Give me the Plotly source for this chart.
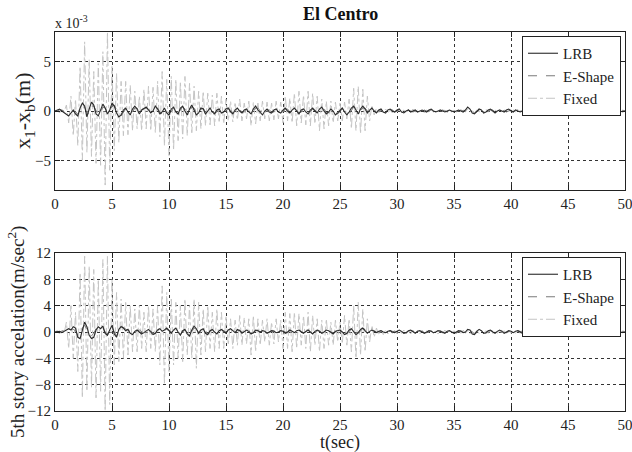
import plotly.graph_objects as go

# ---------------- data (sampled every DT seconds, 0..50 s) ----------------
DT = 0.2
N_SAMPLES = 251
t = [round(i * DT, 1) for i in range(N_SAMPLES)]

# Top: relative displacement x1-xb (units of 1e-3 m)
fixed_disp = [
    0.0,0.1,-0.2,0.2,-0.1, 0.6,-1.2,1.5,-2.5,1.2, -3.5,4.5,-5.0,7.0,-4.2, 5.2,-4.6,4.0,-5.3,4.8, -5.5,6.0,-7.5,8.0,-6.0,
    4.5,-4.0,3.8,-3.2,3.0, -2.5,3.0,-2.4,2.6,-2.0, 2.0,-1.8,1.5,-2.0,2.2, -1.8,2.5,-2.0,2.4,-2.2, 3.0,-2.6,4.0,-3.5,3.2,
    -4.5,3.5,-4.0,3.2,-3.0, 3.0,-2.8,3.5,-2.5,2.8, -2.2,2.5,-2.0,2.0,-1.8, 2.0,-1.5,1.8,-1.4,1.6, -1.5,1.8,-1.2,1.5,-1.3,
    1.2,-1.0,1.0,-1.1,0.9, -0.9,1.2,-1.0,0.8,-0.8, 1.0,-1.5,0.9,-1.3,0.8, -1.0,1.0,-0.8,0.9,-1.0, 0.8,-0.9,1.0,-0.8,0.9,
    -1.2,1.5,-1.0,1.3,-1.2, 1.8,-1.5,2.0,-1.2,1.6, -1.4,2.0,-1.5,1.8,-1.3, 1.5,-2.0,1.2,-1.8,1.0, -1.5,1.0,-1.2,0.9,-1.0,
    0.8,-1.0,0.9,-0.8,1.2, -1.8,2.3,-2.0,2.5,-2.3, 2.2,-2.0,1.5,-1.0,0.6, -0.4,0.3,-0.3,0.2,-0.2, 0.2,-0.2,0.1,-0.2,0.1,
    -0.1,0.2,-0.1,0.1,-0.2, 0.1,-0.1,0.2,-0.1,0.1, -0.1,0.1,-0.2,0.1,-0.1, 0.1,-0.1,0.1,-0.1,0.2, -0.1,0.1,-0.1,0.1,-0.1,
    0.1,-0.2,0.1,-0.1,0.1, -0.1,0.2,-0.1,0.1,-0.2, 0.1,-0.1,0.1,-0.1,0.2, -0.1,0.1,-0.1,0.1,-0.1, 0.2,-0.1,0.1,-0.1,0.1,
    -0.1,0.1,-0.1,0.2,-0.1, 0.1,-0.1,0.1,-0.2,0.1, -0.1,0.1,-0.1,0.1,-0.1, 0.2,-0.1,0.1,-0.1,0.1, -0.1,0.1,-0.2,0.1,-0.1,
    0.1,-0.1,0.1,-0.1,0.2, -0.1,0.1,-0.1,0.1,-0.1, 0.1,-0.2,0.1,-0.1,0.1, -0.1,0.1,-0.1,0.2,-0.1, 0.1,-0.1,0.1,-0.1,0.1,
    0.0,
]
lrb_disp = [
    0.0,0.1,0.2,0.0,-0.2, -0.3,-0.5,-0.2,0.1,-0.3, -0.5,0.3,0.8,0.5,-0.6, 0.2,0.9,0.6,-0.3,-0.5, 0.2,0.7,0.3,-0.3,0.1,
    0.8,0.5,-0.2,-0.6,-0.4, 0.1,0.3,-0.1,-0.4,0.2, 0.5,0.2,-0.3,0.1,0.3, 0.4,0.1,-0.2,0.0,0.5, 0.2,-0.3,-0.1,0.3,-0.2,
    -0.4,0.2,0.4,-0.1,-0.3, 0.3,0.5,0.0,-0.4,0.2, 0.6,0.1,-0.4,-0.2,0.3, 0.2,-0.3,0.0,0.3,-0.1, -0.3,0.1,0.2,-0.2,-0.1,
    0.2,0.3,-0.1,-0.3,0.1, 0.3,0.0,-0.2,0.1,0.2, -0.1,-0.3,0.2,0.5,0.1, -0.2,-0.4,0.0,0.2,-0.1, -0.2,0.1,0.2,-0.1,-0.2,
    0.1,0.3,0.0,-0.2,0.1, 0.3,0.0,-0.3,0.1,0.2, -0.1,-0.3,0.1,0.3,0.0, -0.2,0.2,0.4,0.0,-0.3, -0.1,0.2,0.0,-0.4,-0.2,
    0.1,0.3,-0.1,-0.4,-0.1, 0.3,0.5,0.1,-0.3,0.2, 0.5,0.2,-0.2,0.1,0.3, 0.0,-0.2,0.1,0.2,-0.1, -0.2,0.1,0.2,0.0,-0.1,
    0.1,0.2,-0.1,-0.2,0.0, 0.1,-0.1,0.0,0.1,-0.1, 0.0,0.1,0.0,-0.1,0.1, 0.2,0.0,-0.1,0.0,0.1, 0.0,-0.1,0.0,0.1,0.0,
    -0.1,0.0,0.1,0.0,-0.1, 0.1,0.4,0.2,-0.2,-0.3, 0.0,0.2,0.1,-0.2,-0.1, 0.1,0.2,0.0,-0.2,0.0, 0.1,0.0,-0.1,0.1,0.2,
    0.0,-0.1,0.1,0.0,-0.1, 0.0,0.1,0.0,-0.1,0.0, 0.1,0.0,-0.1,0.0,0.1, 0.2,0.0,-0.1,0.0,0.1, 0.0,-0.1,0.0,0.1,0.0,
    0.2,0.1,-0.1,0.0,0.1, 0.0,-0.1,0.1,0.2,0.0, -0.1,0.0,0.1,0.0,-0.1, 0.0,0.1,0.2,0.0,-0.1, 0.0,0.1,0.0,-0.1,0.0,
    0.0,
]
eshape_disp = [
    0.0,0.0,0.1,0.1,0.0, -0.2,-0.3,-0.2,0.0,-0.1, -0.3,-0.1,0.4,0.4,-0.2, -0.3,0.5,0.5,0.0,-0.4, -0.2,0.4,0.3,-0.2,-0.1,
    0.5,0.6,0.1,-0.4,-0.5, -0.1,0.2,0.1,-0.3,-0.1, 0.3,0.3,-0.1,-0.2,0.2, 0.3,0.2,-0.1,-0.2,0.3, 0.3,-0.1,-0.3,0.1,0.1,
    -0.2,-0.1,0.3,0.1,-0.2, 0.1,0.4,0.2,-0.2,-0.1, 0.4,0.3,-0.2,-0.3,0.1, 0.3,-0.1,-0.2,0.2,0.1, -0.2,-0.1,0.2,0.0,-0.2,
    0.0,0.2,0.1,-0.2,-0.1, 0.2,0.1,-0.1,-0.1,0.1, 0.0,-0.2,-0.1,0.3,0.3, 0.0,-0.3,-0.2,0.1,0.1, -0.1,-0.1,0.1,0.1,-0.1,
    -0.1,0.2,0.2,-0.1,-0.1, 0.2,0.1,-0.2,-0.1,0.1, 0.1,-0.2,-0.1,0.2,0.1, -0.1,0.0,0.3,0.2,-0.2, -0.2,0.1,0.1,-0.2,-0.3,
    -0.1,0.2,0.1,-0.2,-0.3, 0.1,0.4,0.3,-0.1,0.0, 0.3,0.3,0.0,-0.1,0.2, 0.1,-0.1,0.0,0.1,0.0, -0.1,0.0,0.1,0.1,-0.1,
    0.0,0.1,0.0,-0.1,-0.1, 0.1,0.0,-0.1,0.0,0.0, -0.1,0.0,0.1,0.0,0.0, 0.1,0.1,-0.1,-0.1,0.0, 0.1,0.0,-0.1,0.0,0.1,
    0.0,-0.1,0.0,0.1,0.0, 0.0,0.2,0.2,0.0,-0.2, -0.1,0.1,0.2,0.0,-0.2, 0.0,0.1,0.1,-0.1,-0.1, 0.0,0.1,0.0,-0.1,0.0,
    0.1,0.0,0.0,0.1,0.0, -0.1,0.0,0.1,0.0,-0.1, 0.0,0.1,0.0,-0.1,0.0, 0.1,0.1,0.0,-0.1,0.0, 0.1,0.0,-0.1,0.0,0.1,
    0.1,0.1,0.0,-0.1,0.0, 0.1,0.0,0.0,0.1,0.1, 0.0,-0.1,0.0,0.1,0.0, -0.1,0.0,0.1,0.1,0.0, -0.1,0.0,0.1,0.0,-0.1,
    0.0,
]

# Bottom: 5th story acceleration (m/sec^2)
fixed_acc = [
    0.0,0.2,-0.3,0.3,-0.2, 1.5,-2.5,4.0,-4.0,3.0, -6.0,9.0,-10.0,11.5,-9.0, 10.0,-8.5,9.5,-10.0,8.0, -9.0,11.0,-12.0,11.5,-11.0,
    8.0,-5.0,6.0,-4.5,5.0, -4.0,4.5,-3.5,4.0,-3.0, 3.5,-3.0,4.0,-2.5,3.0, -3.0,4.0,-2.5,3.5,-3.0, 4.0,-5.0,7.0,-8.0,6.0,
    -6.0,5.0,-5.0,4.5,-4.0, 4.0,-4.5,5.0,-3.5,4.0, -4.0,5.0,-5.5,4.5,-3.5, 3.5,-3.0,4.0,-2.5,3.0, -3.0,3.5,-2.5,3.0,-2.5,
    2.5,-2.0,2.0,-2.5,1.8, -2.0,2.5,-2.0,2.2,-1.8, 2.0,-3.5,2.5,-3.0,2.0, -2.0,1.8,-1.5,2.0,-2.0, 1.5,-1.8,2.0,-1.5,1.8,
    -2.5,3.0,-2.5,2.8,-3.0, 3.0,-2.5,2.8,-2.0,2.5, -2.5,3.0,-3.0,2.5,-2.0, 2.0,-3.0,1.8,-2.5,2.0, -2.0,1.5,-2.0,1.8,-1.5,
    1.5,-1.8,2.5,-2.0,2.0, -3.0,4.0,-4.0,4.5,-3.5, 3.5,-3.0,2.0,-1.5,1.0, -0.8,0.6,-0.5,0.4,-0.4, 0.3,-0.3,0.3,-0.2,0.3,
    -0.3,0.3,-0.2,0.3,-0.3, 0.2,-0.3,0.3,-0.2,0.2, -0.3,0.3,-0.2,0.2,-0.2, 0.3,-0.2,0.2,-0.3,0.2, -0.2,0.3,-0.2,0.2,-0.2,
    0.2,-0.3,0.2,-0.2,0.3, -0.2,0.2,-0.3,0.2,-0.2, 0.2,-0.2,0.3,-0.2,0.2, -0.2,0.2,-0.2,0.3,-0.2, 0.2,-0.2,0.2,-0.3,0.2,
    -0.2,0.2,-0.2,0.2,-0.2, 0.3,-0.2,0.2,-0.2,0.2, -0.3,0.2,-0.2,0.2,-0.2, 0.2,-0.2,0.3,-0.2,0.2, -0.2,0.2,-0.2,0.2,-0.3,
    0.2,-0.2,0.2,-0.2,0.2, -0.2,0.3,-0.2,0.2,-0.2, 0.2,-0.2,0.2,-0.3,0.2, -0.2,0.2,-0.2,0.2,-0.2, 0.3,-0.2,0.2,-0.2,0.2,
    0.0,
]
lrb_acc = [
    0.0,0.0,0.1,-0.1,0.1, 0.2,0.5,0.3,0.8,0.6, -0.8,-1.0,0.5,1.5,0.8, -0.5,-1.0,-0.8,0.3,0.8, 0.5,0.9,-0.2,-0.5,0.3,
    1.0,-0.3,-0.8,0.4,0.8, 0.6,0.2,0.4,-0.2,-0.4, 0.1,0.3,0.0,-0.3,-0.1, 0.2,0.4,0.0,-0.4,-0.2, 0.3,0.5,0.1,0.3,0.6,
    0.2,-0.2,0.3,0.6,0.0, -0.5,0.2,0.4,-0.3,-0.6, 0.3,0.9,0.5,-0.2,0.3, 0.5,-0.2,-0.4,0.2,0.4, 0.0,-0.3,0.2,0.4,0.1,
    -0.2,0.3,0.5,0.2,-0.1, 0.4,0.2,-0.2,0.0,0.3, 0.1,-0.3,-0.1,0.3,0.2, 0.0,0.2,0.1,-0.2,0.0, 0.2,0.1,-0.1,0.0,0.2,
    0.1,-0.2,0.0,0.3,0.1, -0.1,0.2,0.3,0.0,-0.2, 0.1,0.3,0.0,-0.3,0.1, 0.3,0.1,-0.2,0.0,0.3, 0.2,-0.1,-0.3,0.1,0.2,
    0.3,0.0,-0.4,-0.2,0.3, 0.5,0.1,-0.4,-0.1,0.4, 0.6,0.2,-0.2,0.1,0.3, 0.1,-0.1,0.1,0.2,0.0, -0.1,0.1,0.2,0.0,-0.1,
    0.1,0.3,0.1,-0.2,-0.1, 0.2,0.3,0.0,-0.2,0.1, 0.2,0.0,-0.2,0.0,0.2, 0.1,-0.1,0.0,0.2,0.1, -0.1,-0.2,0.1,0.2,0.0,
    -0.2,0.0,0.2,0.1,-0.1, 0.0,0.4,0.3,-0.3,-0.4, 0.1,0.4,0.2,-0.2,-0.1, 0.2,0.3,0.0,-0.2,0.1, 0.3,0.1,-0.2,0.0,0.2,
    0.1,-0.1,0.1,0.2,0.0, -0.2,0.0,0.2,0.1,-0.1, 0.0,0.2,0.0,-0.2,0.1, 0.3,0.1,-0.2,-0.1,0.2, 0.2,-0.1,-0.2,0.1,0.2,
    0.3,0.0,-0.2,0.0,0.2, 0.1,-0.1,0.1,0.3,0.1, -0.2,-0.1,0.2,0.1,-0.1, 0.0,0.2,0.3,0.0,-0.2, 0.0,0.2,0.1,-0.1,0.0,
    0.0,
]
eshape_acc = [
    0.0,0.1,0.0,0.1,0.2, 0.4,0.3,0.5,0.4,0.2, -0.5,-0.6,0.6,1.0,0.4, -0.3,-0.6,-0.2,0.5,0.7, 0.3,0.6,0.0,-0.3,0.5,
    0.8,0.0,-0.6,0.3,0.9, 0.7,0.4,0.2,0.1,-0.2, -0.1,0.2,0.3,0.0,-0.2, 0.1,0.3,0.2,-0.2,-0.3, 0.1,0.3,0.2,0.2,0.4,
    0.3,0.0,0.2,0.4,0.1, -0.3,0.0,0.3,0.0,-0.4, 0.1,0.6,0.4,0.0,0.2, 0.4,0.0,-0.2,0.1,0.3, 0.1,-0.2,0.1,0.3,0.2,
    0.0,0.2,0.4,0.3,0.0, 0.2,0.3,0.0,-0.1,0.2, 0.2,-0.1,-0.2,0.2,0.3, 0.1,0.1,0.2,-0.1,-0.1, 0.1,0.2,0.0,-0.1,0.1,
    0.2,0.0,-0.1,0.2,0.2, 0.0,0.1,0.3,0.1,-0.1, 0.0,0.2,0.2,-0.2,-0.1, 0.2,0.2,-0.1,-0.1,0.2, 0.3,0.0,-0.2,0.0,0.3,
    0.3,0.1,-0.3,-0.3,0.1, 0.4,0.3,-0.2,-0.3,0.2, 0.5,0.4,0.0,-0.1,0.2, 0.2,0.0,0.0,0.2,0.1, -0.1,0.0,0.2,0.1,0.0,
    0.0,0.2,0.2,0.0,-0.1, 0.1,0.2,0.1,-0.1,0.0, 0.2,0.1,-0.1,-0.1,0.1, 0.2,0.0,-0.1,0.1,0.2, 0.0,-0.1,0.0,0.2,0.1,
    -0.1,-0.1,0.1,0.2,0.0, -0.1,0.2,0.4,0.0,-0.3, -0.1,0.3,0.3,0.0,-0.2, 0.1,0.2,0.1,-0.1,0.0, 0.2,0.2,-0.1,-0.1,0.1,
    0.2,0.0,0.0,0.2,0.1, -0.1,-0.1,0.1,0.2,0.0, -0.1,0.1,0.1,-0.1,0.0, 0.2,0.2,-0.1,-0.2,0.1, 0.2,0.0,-0.1,0.0,0.2,
    0.2,0.1,-0.1,-0.1,0.1, 0.2,0.0,0.0,0.2,0.2, -0.1,-0.2,0.1,0.2,0.0, -0.1,0.1,0.2,0.1,-0.1, -0.1,0.1,0.2,0.0,-0.1,
    0.0,
]

series_names = ["LRB", "E-Shape", "Fixed"]
x_ticks = [0, 5, 10, 15, 20, 25, 30, 35, 40, 45, 50]
top_y_ticks = [-5, 0, 5]
bottom_y_ticks = [-12, -8, -4, 0, 4, 8, 12]

# ---------------- figure ----------------
W, H = 632, 452
FONT = "Liberation Serif, Times New Roman, Times, serif"
styles = {
    "LRB": dict(color="#2a2a2a", width=1.1, dash="solid"),
    "E-Shape": dict(color="#7a7a7a", width=1.0, dash="dash"),
    "Fixed": dict(color="#c4c4c4", width=1.0, dash="dashdot"),
}

fig = go.Figure()
top_data = {"LRB": lrb_disp, "E-Shape": eshape_disp, "Fixed": fixed_disp}
bot_data = {"LRB": lrb_acc, "E-Shape": eshape_acc, "Fixed": fixed_acc}
for name in reversed(series_names):
    fig.add_trace(go.Scatter(x=t, y=top_data[name], mode="lines", name=name,
                             line=styles[name], xaxis="x", yaxis="y", legend="legend"))
for name in reversed(series_names):
    fig.add_trace(go.Scatter(x=t, y=bot_data[name], mode="lines", name=name,
                             line=styles[name], xaxis="x2", yaxis="y2", legend="legend2"))

def px_x(p):
    return p / W

def px_y(p):
    return (H - p) / H

axis_common = dict(
    showline=True, linecolor="#222", linewidth=1, mirror="ticks",
    ticks="inside", ticklen=5, tickcolor="#222",
    showgrid=True, gridcolor="#333", griddash="dot", gridwidth=1,
    zeroline=False, tickfont=dict(family=FONT, size=15, color="#222"),
    ticklabeloverflow="allow", automargin=False,
)

legend_style = dict(xanchor="right", yanchor="top", bgcolor="white",
                    bordercolor="#222", borderwidth=1,
                    font=dict(family=FONT, size=15, color="#222"),
                    traceorder="reversed", tracegroupgap=0)

fig.update_layout(
    width=W, height=H,
    margin=dict(l=0, r=0, t=0, b=0, autoexpand=False),
    paper_bgcolor="white", plot_bgcolor="white",
    font=dict(family=FONT, color="#222"),
    showlegend=True,
    xaxis=dict(domain=[px_x(55), px_x(625)], range=[0, 50], tickvals=x_ticks,
               anchor="y", **axis_common),
    yaxis=dict(domain=[px_y(190), px_y(32)], range=[-8, 8], tickvals=top_y_ticks,
               anchor="x", **axis_common),
    xaxis2=dict(domain=[px_x(55), px_x(625)], range=[0, 50], tickvals=x_ticks,
                anchor="y2", **axis_common),
    yaxis2=dict(domain=[px_y(411), px_y(253)], range=[-12, 12], tickvals=bottom_y_ticks,
                anchor="x2", **axis_common),
    legend=dict(x=px_x(621), y=px_y(36), **legend_style),
    legend2=dict(x=px_x(621), y=px_y(257), **legend_style),
    annotations=[
        dict(text="<b>El Centro</b>", x=px_x(340), y=px_y(14), xref="paper", yref="paper",
             showarrow=False, xanchor="center", yanchor="middle",
             font=dict(family=FONT, size=18, color="#111")),
        dict(text="x 10<sup>-3</sup>", x=px_x(53), y=px_y(22), xref="paper", yref="paper",
             showarrow=False, xanchor="left", yanchor="middle",
             font=dict(family=FONT, size=14, color="#222")),
        dict(text="x<sub>1</sub>-x<sub>b</sub>(m)", x=px_x(24), y=px_y(111), xref="paper", yref="paper",
             showarrow=False, xanchor="center", yanchor="middle", textangle=-90,
             font=dict(family=FONT, size=22, color="#222")),
        dict(text="5th story accelation(m/sec<sup>2</sup>)", x=px_x(16), y=px_y(332),
             xref="paper", yref="paper", showarrow=False, xanchor="center", yanchor="middle",
             textangle=-90, font=dict(family=FONT, size=19, color="#222")),
        dict(text="t(sec)", x=px_x(340), y=px_y(442), xref="paper", yref="paper",
             showarrow=False, xanchor="center", yanchor="middle",
             font=dict(family=FONT, size=18, color="#222")),
    ],
)

fig.write_html("out.html")
